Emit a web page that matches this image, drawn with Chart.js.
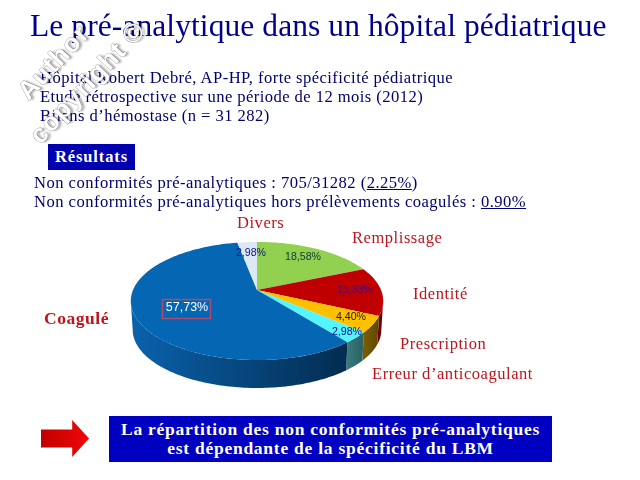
<!DOCTYPE html>
<html lang="fr">
<head>
<meta charset="utf-8">
<title>Le pré-analytique</title>
<script src="https://cdn.jsdelivr.net/npm/chart.js@4/dist/chart.umd.min.js"></script>
<style>
  html, body { margin: 0; padding: 0; background: #fff; }
  #slide { position: relative; width: 640px; height: 480px; overflow: hidden; font-family: "Liberation Serif", serif; }
  #slide canvas { position: absolute; left: 0; top: 0; }
  .txt { position: absolute; white-space: nowrap; }
  #title { left: 30px; top: 8px; font-size: 31.5px; color: #00008c; letter-spacing: 0.08px; }
  .info { left: 40px; font-size: 16.6px; color: #00006e; letter-spacing: 0.43px; }
  .res { left: 34px; font-size: 16.6px; color: #00006e; letter-spacing: 0.46px; }
  #badge { left: 48px; top: 144px; width: 87px; height: 26px; line-height: 26px; text-align: center; background: #0000b0; color: #fff; font-weight: bold; font-size: 16.5px; letter-spacing: 0.9px; }
  #box { left: 109px; top: 416px; width: 443px; height: 46px; background: #0000c0; color: #fff; font-weight: bold; font-size: 17.5px; letter-spacing: 0.75px; line-height: 19px; text-align: center; padding-top: 4px; box-sizing: border-box; }
  #arrow { left: 41px; top: 420px; width: 48px; height: 37px; background: linear-gradient(90deg, #c00000, #f00808); clip-path: polygon(0 26%, 65% 26%, 65% 0, 100% 50%, 65% 100%, 65% 74%, 0 74%); }
  .mark { font-family: "Liberation Sans", sans-serif; font-weight: bold; color: #fff; -webkit-text-stroke: 0.8px #9a9a9a; paint-order: stroke fill; text-shadow: 2px 2px 2px rgba(0,0,0,.3); transform-origin: 0 0; transform: rotate(-47deg); letter-spacing: 1px; }
</style>
</head>
<body>
<div id="slide">
  <canvas id="pie" width="640" height="480"></canvas>
  <div class="txt" id="title">Le pré-analytique dans un hôpital pédiatrique</div>
  <div class="txt info" style="top:68px">Hôpital Robert Debré, AP-HP, forte spécificité pédiatrique</div>
  <div class="txt info" style="top:87px">Etude rétrospective sur une période de 12 mois (2012)</div>
  <div class="txt info" style="top:106px">Bilans d’hémostase (n = 31 282)</div>
  <div class="txt" id="badge">Résultats</div>
  <div class="txt res" style="top:173px">Non conformités pré-analytiques : 705/31282 (<u>2.25%</u>)</div>
  <div class="txt res" style="top:192px">Non conformités pré-analytiques hors prélèvements coagulés : <u>0.90%</u></div>
  <div class="txt" id="arrow"></div>
  <div class="txt" id="box">La répartition des non conformités pré-analytiques<br>est dépendante de la spécificité du LBM</div>
  <div class="txt mark" style="left:11px;top:85px;font-size:26px">Author</div>
  <div class="txt mark" style="left:23px;top:129px;font-size:26px">copyright ©</div>
</div>
<script>
const categories = ['Remplissage', 'Identité', 'Prescription', 'Erreur d’anticoagulant', 'Coagulé', 'Divers'];
const values = [18.58, 13.33, 4.40, 2.98, 57.73, 2.98];
const valueLabels = ['18,58%', '13,33%', '4,40%', '2,98%', '57,73%', '2,98%'];

const topColors = ['#92d050', '#c00000', '#ffc000', '#55f5ff', '#0566b4', '#dce9f2'];
const sideColors = [
  ['#6d9c3c', '#6d9c3c'], ['#7a0000', '#5a0000'], ['#7a5c00', '#5e4600'],
  ['#387a7c', '#2a6064'], ['#0a62ac', '#032c50'], ['#a0b0b8', '#a0b0b8']
];
const valuePos = [[303, 257], [355, 290], [351, 317], [347, 332], [187, 308], [251, 253]];
const valueColors = ['#123838', '#4a0a78', '#221a10', '#10108c', '#ffffff', '#10108c'];
const valueSizes = [10.6, 10.6, 10.6, 10.6, 12.5, 10.6];
const namePos = [[352, 239], [413, 295], [400, 345], [372, 375], [44, 319], [237, 224]];

// the slide photographs the pie in perspective, so the apex is not the ellipse centre
const cx = 257, cy = 290, k = -0.186, sx = 124, sy = 57;
const depth = 29;

function project(a, drop) {
  const u = Math.cos(a), v = Math.sin(a), w = 1 + k * v;
  const shrink = drop ? 0.985 : 1;
  return [cx + sx * shrink * u / w, cy + sy * shrink * v / w + (drop ? depth : 0)];
}

function arcPoints(a0, a1, drop) {
  const pts = [], n = Math.max(2, Math.ceil((a1 - a0) / 0.02));
  for (let i = 0; i <= n; i++) pts.push(project(a0 + (a1 - a0) * i / n, drop));
  return pts;
}

function tracePoly(ctx, pts) {
  ctx.beginPath();
  pts.forEach((p, i) => i ? ctx.lineTo(p[0], p[1]) : ctx.moveTo(p[0], p[1]));
  ctx.closePath();
}

const perspectivePie = {
  id: 'perspectivePie',
  // angles come from the library's arc elements, only the drawing is re-projected
  beforeDatasetDraw(chart, args) {
    const ctx = chart.ctx;
    const arcs = args.meta.data;
    const frontFrom = Math.asin(-k), frontTo = Math.PI - frontFrom;

    ctx.save();
    arcs.forEach((arc, i) => {
      const a0 = Math.max(arc.startAngle, frontFrom);
      const a1 = Math.min(arc.endAngle, frontTo);
      if (a1 <= a0) return;
      const top = arcPoints(a0, a1, false);
      const bottom = arcPoints(a0, a1, true).reverse();
      const xs = top.map(p => p[0]);
      const left = Math.min(...xs), right = Math.max(...xs);
      const grad = ctx.createLinearGradient(left, 0, right, 0);
      // the sweep runs right to left on the front, dark end is on the right
      grad.addColorStop(0, sideColors[i][0]);
      grad.addColorStop(1, sideColors[i][1]);
      ctx.fillStyle = grad;
      tracePoly(ctx, top.concat(bottom));
      ctx.fill();
    });

    arcs.forEach((arc, i) => {
      const pts = arcPoints(arc.startAngle, arc.endAngle, false);
      pts.push([cx, cy]);
      ctx.fillStyle = topColors[i];
      tracePoly(ctx, pts);
      ctx.fill();
    });

    ctx.textBaseline = 'middle';
    ctx.textAlign = 'center';
    valueLabels.forEach((t, i) => {
      ctx.font = valueSizes[i] + 'px "Liberation Sans", sans-serif';
      ctx.fillStyle = valueColors[i];
      ctx.fillText(t, valuePos[i][0], valuePos[i][1]);
    });
    // boxed label of the main slice
    ctx.strokeStyle = '#b04a70';
    ctx.lineWidth = 1.5;
    ctx.strokeRect(162.5, 299.5, 48, 19);

    ctx.textAlign = 'left';
    ctx.letterSpacing = '0.55px';
    categories.forEach((t, i) => {
      ctx.fillStyle = '#c0141c';
      ctx.font = (i === 4 ? 'bold 17.5px' : '16.5px') + ' "Liberation Serif", serif';
      ctx.fillText(t, namePos[i][0], namePos[i][1]);
    });
    ctx.restore();
    return false;
  }
};

new Chart(document.getElementById('pie'), {
  type: 'pie',
  data: { labels: categories, datasets: [{ data: values, backgroundColor: topColors, borderWidth: 0 }] },
  options: {
    responsive: false,
    animation: false,
    plugins: { legend: { display: false }, tooltip: { enabled: false } }
  },
  plugins: [perspectivePie]
});
</script>
</body>
</html>
